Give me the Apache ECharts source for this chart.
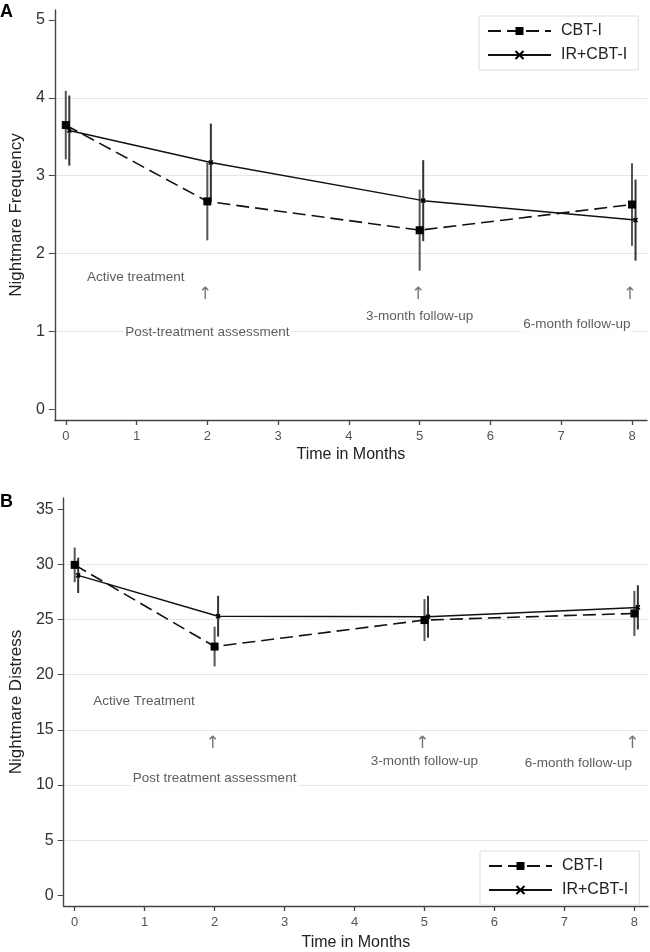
<!DOCTYPE html>
<html>
<head>
<meta charset="utf-8">
<script src="https://cdn.jsdelivr.net/npm/echarts@6/dist/echarts.min.js"></script>
<style>
html,body{margin:0;padding:0;background:#fff;}
#chart{width:650px;height:952px;}
</style>
</head>
<body>
<div id="chart"></div>
<script>
// ---- Data ----
const seriesNames = ['CBT-I', 'IR+CBT-I'];
const monthTicks = [0, 1, 2, 3, 4, 5, 6, 7, 8];
const cbtX = [0, 2, 5, 8];
const irX = [0.05, 2.05, 5.05, 8.05];

// Panel A: Nightmare Frequency
const freqTicks = [0, 1, 2, 3, 4, 5];
const freqGrid = [1, 2, 3, 4];
const freqCBT = [3.65, 2.67, 2.30, 2.63];
const freqCBTErr = [0.44, 0.50, 0.52, 0.53];
const freqIR = [3.58, 3.17, 2.68, 2.43];
const freqIRErr = [0.45, 0.50, 0.52, 0.52];

// Panel B: Nightmare Distress
const distTicks = [0, 5, 10, 15, 20, 25, 30, 35];
const distGrid = [5, 10, 15, 20, 25, 30];
const distCBT = [29.95, 22.55, 24.95, 25.55];
const distCBTErr = [1.57, 1.80, 1.90, 2.05];
const distIR = [29.0, 25.3, 25.25, 26.1];
const distIRErr = [1.60, 1.85, 1.90, 2.00];

// Annotations (data coordinates)
const annTextA = ['Active treatment', '↑', 'Post-treatment assessment', '↑', '3-month follow-up', '↑', '6-month follow-up'];
const annXA = [0.99, 1.97, 2.0, 4.98, 5.0, 7.97, 7.22];
const annYA = [1.70, 1.47, 0.985, 1.47, 1.19, 1.47, 1.09];
const annTextB = ['Active Treatment', '↑', 'Post treatment assessment', '↑', '3-month follow-up', '↑', '6-month follow-up'];
const annXB = [0.99, 1.97, 2.0, 4.97, 5.0, 7.97, 7.20];
const annYB = [17.6, 13.8, 10.6, 13.8, 12.16, 13.8, 11.96];

// ---- Chart ----
const FONT = 'Liberation Sans, Arial, Helvetica, sans-serif';
const chart = echarts.init(document.getElementById('chart'), null, {renderer: 'canvas'});

function xAxisCfg(gi, min, max, gap) {
  return {
    type: 'value', gridIndex: gi, min: min, max: max,
    name: 'Time in Months', nameLocation: 'middle', nameGap: gap,
    nameTextStyle: {fontFamily: FONT, fontSize: 16, color: '#222'},
    axisLine: {show: true, onZero: false, lineStyle: {color: '#444', width: 1.4}},
    axisTick: {show: true, length: 5, customValues: monthTicks, lineStyle: {color: '#444', width: 1.3}},
    axisLabel: {show: true, customValues: monthTicks, margin: 10, fontFamily: FONT, fontSize: 13, color: '#555'},
    splitLine: {show: false}
  };
}
function yAxisCfg(gi, min, max, ticks, name, gap) {
  return {
    type: 'value', gridIndex: gi, min: min, max: max,
    name: name, nameLocation: 'middle', nameGap: gap,
    nameTextStyle: {fontFamily: FONT, fontSize: 17, color: '#222'},
    axisLine: {show: true, onZero: false, lineStyle: {color: '#444', width: 1.4}},
    axisTick: {show: true, length: 6, customValues: ticks, lineStyle: {color: '#444', width: 1}},
    axisLabel: {show: true, customValues: ticks, margin: 10, fontFamily: FONT, fontSize: 16, color: '#333'},
    splitLine: {show: false}
  };
}
function gridLineSeries(gi, vals) {
  return {
    type: 'line', xAxisIndex: gi, yAxisIndex: gi, data: [], silent: true, z: 0,
    markLine: {
      z: 0, silent: true, symbol: ['none', 'none'], label: {show: false},
      lineStyle: {color: '#e6e6e6', width: 1.2, type: 'solid'},
      emphasis: {disabled: true},
      data: vals.map(v => ({yAxis: v}))
    }
  };
}
function errSeries(gi, xs, ys, es, color) {
  return {
    type: 'custom', xAxisIndex: gi, yAxisIndex: gi, silent: true, z: 3,
    data: xs.map((x, i) => [x, ys[i] - es[i], ys[i] + es[i]]),
    renderItem: function (params, api) {
      const p1 = api.coord([api.value(0), api.value(1)]);
      const p2 = api.coord([api.value(0), api.value(2)]);
      return {type: 'line', shape: {x1: p1[0], y1: p1[1], x2: p2[0], y2: p2[1]},
        style: {stroke: color, lineWidth: 2}};
    }
  };
}
function cbtSeries(gi, ys) {
  return {
    name: seriesNames[0], type: 'line', xAxisIndex: gi, yAxisIndex: gi, z: 5,
    data: cbtX.map((x, i) => [x, ys[i]]),
    symbol: 'rect', symbolSize: 8, showAllSymbol: true,
    itemStyle: {color: '#000'},
    lineStyle: {color: '#111', width: 1.6, type: [13, 6]},
    emphasis: {disabled: true}
  };
}
function irSeries(gi, ys) {
  return {
    name: seriesNames[1], type: 'line', xAxisIndex: gi, yAxisIndex: gi, z: 5,
    data: irX.map((x, i) => [x, ys[i]]),
    symbol: 'path://M0,0L10,10M10,0L0,10', symbolSize: 4,
    itemStyle: {color: '#000', borderColor: '#000', borderWidth: 1.5},
    lineStyle: {color: '#111', width: 1.5, type: 'solid'},
    emphasis: {disabled: true}
  };
}
function annSeries(gi, texts, xs, ys) {
  return {
    type: 'scatter', xAxisIndex: gi, yAxisIndex: gi, silent: true, z: 2,
    symbolSize: 0, itemStyle: {color: 'rgba(0,0,0,0)'},
    data: texts.map((t, i) => {
      const item = {name: t, value: [xs[i], ys[i]]};
      if (t === '↑') {
        item.label = {fontFamily: 'DejaVu Sans, sans-serif', fontSize: 17, color: '#555',
          backgroundColor: 'transparent', padding: 0};
      }
      return item;
    }),
    label: {
      show: true, position: 'inside', formatter: '{b}',
      fontFamily: FONT, fontSize: 13.5, color: '#333',
      backgroundColor: '#fff', padding: [1, 2]
    },
    emphasis: {disabled: true}
  };
}
function legendCfg(left, top) {
  return {
    left: left, top: top, orient: 'vertical',
    data: seriesNames, selectedMode: false,
    backgroundColor: '#fff', borderColor: '#ddd', borderWidth: 1,
    padding: [7, 11, 7, 8], itemGap: 8, itemWidth: 63, itemHeight: 10,
    textStyle: {fontFamily: FONT, fontSize: 16, color: '#222', padding: [0, 0, 0, 5]}
  };
}

const option = {
  backgroundColor: '#fff',
  animation: false,
  grid: [
    {left: 54, top: 10, width: 593, height: 410},
    {left: 62, top: 498, width: 586, height: 414}
  ],
  xAxis: [xAxisCfg(0, -0.155, 8.212, 27), xAxisCfg(1, -0.157, 8.195, 29)],
  yAxis: [
    yAxisCfg(0, -0.137, 5.128, freqTicks, 'Nightmare Frequency', 27),
    yAxisCfg(1, -0.956, 36.01, distTicks, 'Nightmare Distress', 36)
  ],
  legend: [legendCfg(479, 16), legendCfg(480, 851)],
  graphic: [
    {type: 'text', left: 0, top: 3, style: {text: 'A', font: 'bold 18px ' + FONT, fill: '#000'}},
    {type: 'text', left: 0, top: 493, style: {text: 'B', font: 'bold 18px ' + FONT, fill: '#000'}}
  ],
  series: [
    gridLineSeries(0, freqGrid),
    gridLineSeries(1, distGrid),
    annSeries(0, annTextA, annXA, annYA),
    annSeries(1, annTextB, annXB, annYB),
    errSeries(0, cbtX, freqCBT, freqCBTErr, '#555'),
    errSeries(0, irX, freqIR, freqIRErr, '#333'),
    errSeries(1, cbtX, distCBT, distCBTErr, '#555'),
    errSeries(1, irX, distIR, distIRErr, '#333'),
    cbtSeries(0, freqCBT),
    irSeries(0, freqIR),
    cbtSeries(1, distCBT),
    irSeries(1, distIR)
  ]
};
chart.setOption(option);
</script>
</body>
</html>
